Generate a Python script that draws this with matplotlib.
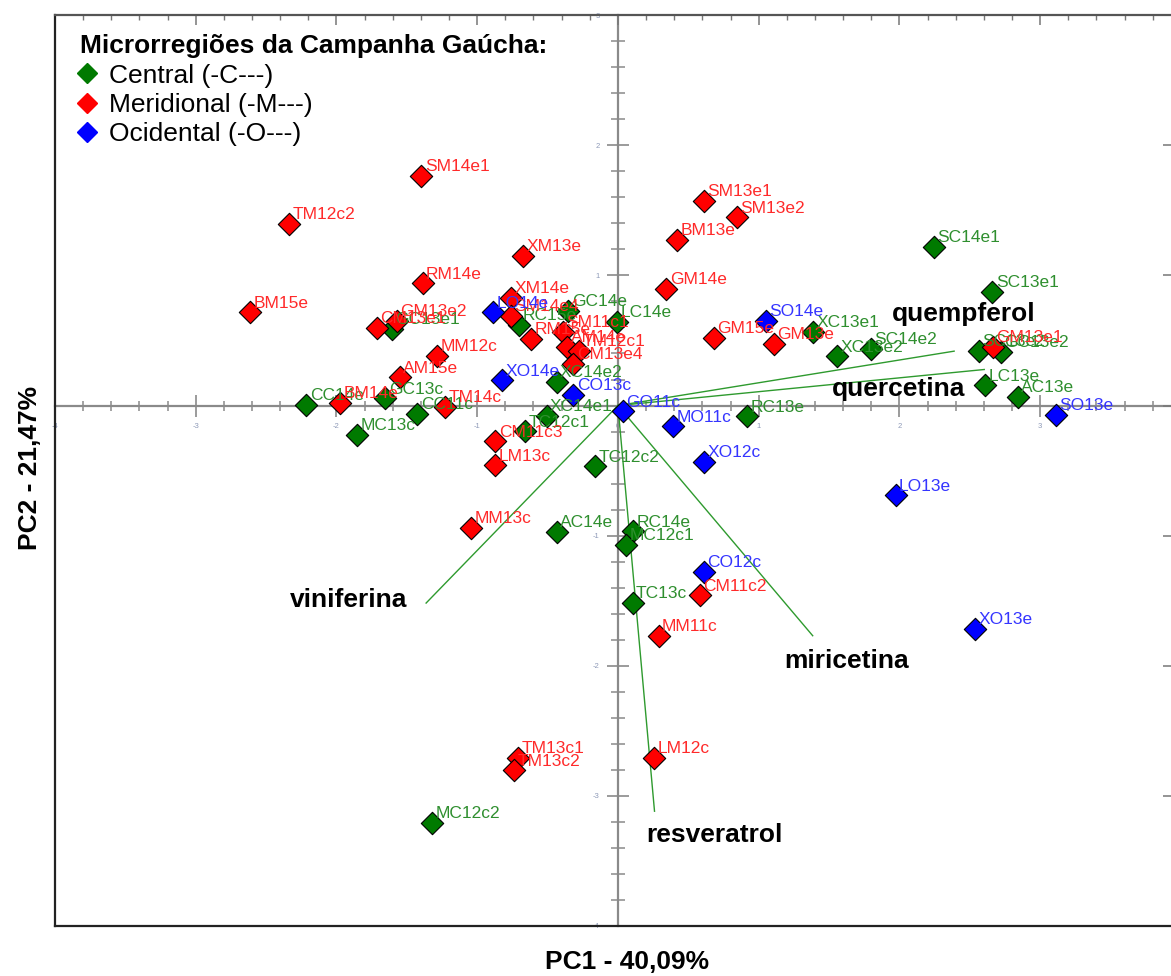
import matplotlib
matplotlib.use("Agg")
import matplotlib.pyplot as plt
from matplotlib.ticker import MultipleLocator, FuncFormatter, NullFormatter
from matplotlib.lines import Line2D

plt.rcParams['font.family'] = ['Liberation Sans', 'DejaVu Sans']

# ---------------- data ----------------
central_names = ["GC14e", "LC14e", "RC15e", "GC13e1", "XC14e2", "CC14e", "GC13c", "CC11c",
                 "MC13c", "XC14e1", "TC12c1", "TC12c2", "AC14e", "RC14e", "MC12c1", "TC13c",
                 "MC12c2", "RC13e", "XC13e1", "XC13e2", "SC14e2", "SC14e1", "SC13e1", "SC13e2",
                 "GC13e2", "LC13e", "AC13e"]
central_x = [-0.352, -0.009, -0.701, -1.608, -0.436, -2.213, -1.652, -1.425,
             -1.851, -0.507, -0.659, -0.163, -0.433, 0.108, 0.055, 0.104,
             -1.323, 0.920, 1.385, 1.559, 1.795, 2.247, 2.661, 2.563,
             2.719, 2.611, 2.840]
central_y = [0.727, 0.643, 0.620, 0.589, 0.180, 0.005, 0.055, -0.064,
             -0.225, -0.077, -0.198, -0.467, -0.972, -0.968, -1.071, -1.518,
             -3.205, -0.084, 0.564, 0.379, 0.435, 1.217, 0.871, 0.422,
             0.410, 0.155, 0.069]

meridional_names = ["SM14e1", "TM12c2", "XM13e", "RM14e", "BM15e", "XM14e", "GM13e2", "CM13e1",
                    "SM14e4", "RM15e", "SM11c1", "AM14e", "TM12c1", "CM13e4", "MM12c", "AM15e",
                    "BM14e", "TM14c", "CM11c3", "LM13c", "MM13c", "CM11c2", "MM11c", "LM12c",
                    "TM13c1", "TM13c2", "SM13e1", "SM13e2", "BM13e", "GM14e", "GM15e", "GM13e",
                    "GM13e1"]
meridional_x = [-1.396, -2.335, -0.673, -1.388, -2.615, -0.760, -1.572, -1.714,
                -0.762, -0.620, -0.389, -0.360, -0.277, -0.318, -1.284, -1.549,
                -1.972, -1.226, -0.870, -0.870, -1.044, 0.580, 0.289, 0.254,
                -0.711, -0.739, 0.610, 0.843, 0.421, 0.343, 0.682, 1.106,
                2.666]
meridional_y = [1.768, 1.396, 1.152, 0.940, 0.717, 0.827, 0.653, 0.597,
                0.691, 0.512, 0.564, 0.449, 0.422, 0.320, 0.384, 0.217,
                0.018, -0.012, -0.275, -0.459, -0.942, -1.459, -1.771, -2.706,
                -2.708, -2.803, 1.574, 1.447, 1.275, 0.896, 0.520, 0.474,
                0.449]

ocidental_names = ["LO14e", "XO14e", "CO13c", "GO11c", "MO11c", "XO12c", "SO14e", "LO13e",
                   "SO13e", "CO12c", "XO13e"]
ocidental_x = [-0.886, -0.822, -0.318, 0.033, 0.394, 0.610, 1.049, 1.973,
               3.112, 0.609, 2.540]
ocidental_y = [0.717, 0.194, 0.080, -0.045, -0.160, -0.435, 0.653, -0.691,
               -0.071, -1.280, -1.715]

loading_names = ["quempferol", "quercetina", "viniferina", "miricetina", "resveratrol"]
loading_x = [2.389, 2.603, -1.363, 1.384, 0.260]
loading_y = [0.418, 0.277, -1.518, -1.769, -3.118]
loading_label_x = [2.458, 1.996, -1.911, 1.627, 0.689]
loading_label_y = [0.704, 0.128, -1.492, -1.961, -3.298]

legend_title = "Microrregiões da Campanha Gaúcha:"
legend_labels = ["Central (-C---)", "Meridional (-M---)", "Ocidental (-O---)"]
xlabel = "PC1 - 40,09%"
ylabel = "PC2 - 21,47%"

# ---------------- figure ----------------
W, H = 1171, 976
fig = plt.figure(figsize=(W / 100, H / 100), dpi=100)
pos = [55 / W, 50 / H, (W - 55) / W, 910.8 / H]
XLIM = (-4, 3.93)
YLIM = (-4, 3)

# central axes (behind data)
axc = fig.add_axes(pos, zorder=0)
axc.set_xlim(*XLIM)
axc.set_ylim(*YLIM)
for s in ['top', 'right']:
    axc.spines[s].set_visible(False)
axc.spines['left'].set_position(('data', 0))
axc.spines['bottom'].set_position(('data', 0))
for s in ['left', 'bottom']:
    axc.spines[s].set_color('#8a8a8a')
    axc.spines[s].set_linewidth(1.6)
axc.xaxis.set_major_locator(MultipleLocator(1))
axc.xaxis.set_minor_locator(MultipleLocator(0.2))
axc.yaxis.set_major_locator(MultipleLocator(1))
axc.yaxis.set_minor_locator(MultipleLocator(0.2))
axc.tick_params(which='major', direction='inout', length=16.5, width=1.2, color='#8a8a8a',
                labelsize=5.5, labelcolor='#8e9ab8')
axc.tick_params(axis='x', which='minor', direction='inout', length=7.5, width=1.1, color='#8a8a8a')
axc.tick_params(axis='y', which='minor', direction='inout', length=9.5, width=1.1, color='#8a8a8a')
axc.tick_params(axis='x', which='major', pad=4.5)
axc.tick_params(axis='y', which='major', pad=5)
axc.xaxis.set_major_formatter(FuncFormatter(lambda v, p: "%d" % round(v)))
axc.yaxis.set_major_formatter(FuncFormatter(lambda v, p: "" if round(v) == 0 else "%d" % round(v)))
axc.patch.set_facecolor('white')

# main axes (frame + data)
ax = fig.add_axes(pos, zorder=1)
ax.patch.set_visible(False)
ax.set_xlim(*XLIM)
ax.set_ylim(*YLIM)
ax.spines['right'].set_visible(False)
ax.spines['left'].set_color('#222222')
ax.spines['bottom'].set_color('#222222')
ax.spines['top'].set_color('#555555')
for s in ['left', 'bottom', 'top']:
    ax.spines[s].set_linewidth(1.6)
ax.xaxis.set_ticks_position('top')
ax.xaxis.set_major_locator(MultipleLocator(1))
ax.xaxis.set_minor_locator(MultipleLocator(0.2))
ax.xaxis.set_major_formatter(NullFormatter())
ax.tick_params(axis='x', which='major', direction='in', length=7.5, width=1.1, color='#777777')
ax.tick_params(axis='x', which='minor', direction='in', length=3.8, width=1.0, color='#777777')
ax.yaxis.set_ticks_position('right')
ax.yaxis.set_major_locator(MultipleLocator(1))
ax.yaxis.set_major_formatter(NullFormatter())
ax.tick_params(axis='y', which='major', direction='in', length=6, width=1.1, color='#777777')

# loading vectors
for lx, ly in zip(loading_x, loading_y):
    ax.plot([0, lx], [0, ly], color='#2e9a2e', lw=1.0, zorder=2)
for name, tx, ty in zip(loading_names, loading_label_x, loading_label_y):
    ax.text(tx, ty, name, fontsize=19, fontweight='bold', color='black',
            ha='center', va='center', zorder=6)

groups = [
    (central_names, central_x, central_y, '#007a00', '#2f8f2f'),
    (meridional_names, meridional_x, meridional_y, '#ff0000', '#ff2a2a'),
    (ocidental_names, ocidental_x, ocidental_y, '#0000ff', '#3535ff'),
]
for names, xs, ys, mc, tc in groups:
    ax.scatter(xs, ys, marker='D', s=130, c=mc, edgecolors='black', linewidths=0.8, zorder=3)
for names, xs, ys, mc, tc in groups:
    for n, x, y in zip(names, xs, ys):
        ax.annotate(n, (x, y), xytext=(2.5, 3.4), textcoords='offset points',
                    ha='left', va='baseline', fontsize=12.5, color=tc, zorder=4)

# legend
handles = [Line2D([], [], marker='D', ls='none', markersize=10, markerfacecolor=c,
                  markeredgecolor=c) for c in ['#007a00', '#ff0000', '#0000ff']]
leg = ax.legend(handles, legend_labels, title=legend_title, loc='upper left',
                bbox_to_anchor=(0.0224, 0.979), frameon=False, fontsize=19,
                title_fontproperties={'weight': 'bold', 'size': 19},
                alignment='left', handlelength=0.5, handletextpad=0.6,
                labelspacing=0.2, borderpad=0.0, borderaxespad=0.0)
leg.set_zorder(10)

# axis titles
fig.text(627 / W, 1 - 962 / H, xlabel, fontsize=19, fontweight='bold', ha='center', va='center')
fig.text(30 / W, 1 - 468 / H, ylabel, fontsize=19, fontweight='bold', ha='center', va='center',
         rotation=90)

fig.savefig("out.png", dpi=100)
